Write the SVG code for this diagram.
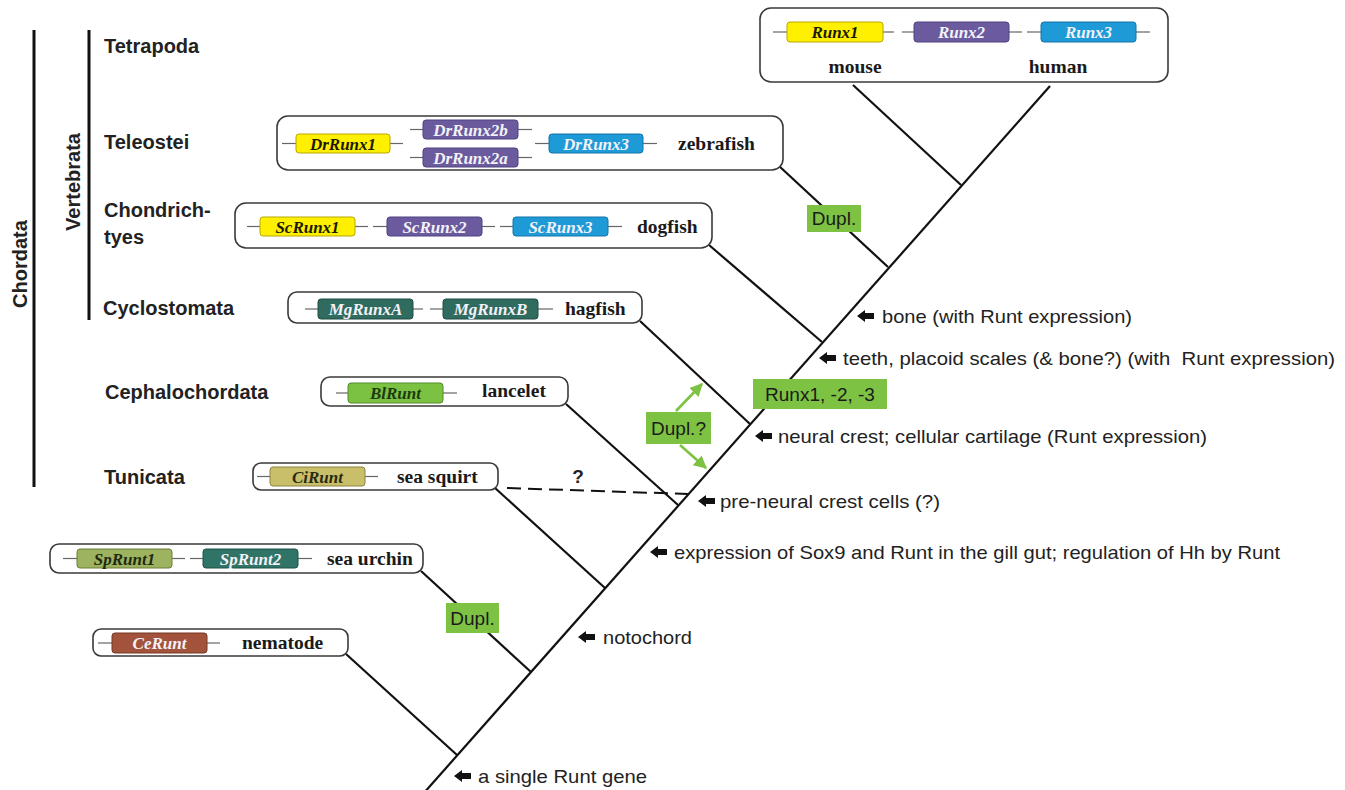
<svg xmlns="http://www.w3.org/2000/svg" xmlns:xlink="http://www.w3.org/1999/xlink" width="1345" height="790" viewBox="0 0 1345 790">
<style>
.box{fill:#fff;stroke:#3a3a3a;stroke-width:1.6}
.ln{stroke:#666;stroke-width:1.2}
.gt{font-family:"Liberation Serif",serif;font-weight:bold;font-style:italic;font-size:17px;text-anchor:middle}
.sp{font-family:"Liberation Serif",serif;font-weight:bold;font-size:19.5px;fill:#1a1a1a}
.tax{font-family:"Liberation Sans",Arial,sans-serif;font-weight:bold;font-size:20px;fill:#222}
.lab{font-family:"Liberation Sans",Arial,sans-serif;font-size:19px;fill:#222}
.br{stroke:#111;stroke-width:2.2;fill:none}
.gbox{fill:#7dc242}
.gl{font-family:"Liberation Sans",Arial,sans-serif;font-size:19px;fill:#1a1a1a;text-anchor:middle}
.yel{fill:#fff000;stroke:#b5a800}
.pur{fill:#6b5b9e;stroke:#4e4280}
.blu{fill:#1e9bd7;stroke:#1474a8}
.mg{fill:#2f6b5f;stroke:#1f4d44}
.bl{fill:#7cc242;stroke:#4f8a2a}
.ci{fill:#c9be6a;stroke:#8c8440}
.sp1{fill:#9db35f;stroke:#6b7f3a}
.sp2{fill:#2f7467;stroke:#1f5248}
.ce{fill:#a3533b;stroke:#743825}
.dk{fill:#1a1a00}
.wt{fill:#f2f2f8}
</style>
<defs>
<path id="ba" d="M0,0 L8,-6 L8,-3 L17,-3 L17,3 L8,3 L8,6 Z" fill="#111"/>
<marker id="ga" viewBox="0 0 10 10" refX="9" refY="5" markerWidth="5" markerHeight="5" orient="auto" markerUnits="strokeWidth">
<path d="M0,0 L10,5 L0,10 Z" fill="#7dc242"/>
</marker>
</defs>

<!-- taxonomy labels -->
<g id="taxa">
<line x1="34" y1="30" x2="34" y2="487" stroke="#111" stroke-width="3"/>
<line x1="89" y1="30" x2="89" y2="320" stroke="#111" stroke-width="3"/>
<text class="tax" font-size="22" text-anchor="middle" transform="translate(27,264) rotate(-90)">Chordata</text>
<text class="tax" font-size="22" text-anchor="middle" transform="translate(80,182) rotate(-90)">Vertebrata</text>
<text class="tax" x="104" y="53">Tetrapoda</text>
<text class="tax" x="104" y="149">Teleostei</text>
<text class="tax" x="104" y="217">Chondrich-</text>
<text class="tax" x="104" y="244">tyes</text>
<text class="tax" x="103" y="315">Cyclostomata</text>
<text class="tax" x="105" y="399">Cephalochordata</text>
<text class="tax" x="104" y="484">Tunicata</text>
</g>

<!-- connectors -->
<g id="connectors">
<line class="br" x1="423" y1="794" x2="1050" y2="86"/>
<line class="br" x1="853" y1="85" x2="961" y2="185"/>
<line class="br" x1="779" y1="166" x2="888" y2="267"/>
<line class="br" x1="709" y1="245" x2="822" y2="342"/>
<line class="br" x1="640" y1="321" x2="750" y2="424"/>
<line class="br" x1="566" y1="404" x2="678" y2="505"/>
<line class="br" x1="495" y1="488" x2="605" y2="588"/>
<line class="br" x1="421" y1="571" x2="531" y2="672"/>
<line class="br" x1="346" y1="654" x2="457" y2="755"/>
<line x1="507" y1="488" x2="688" y2="494" stroke="#111" stroke-width="2" stroke-dasharray="14,7"/>
<text x="578" y="483" font-family="Liberation Sans, Arial, sans-serif" font-weight="bold" font-size="19" text-anchor="middle" fill="#222">?</text>
<line x1="676" y1="411" x2="702" y2="384" stroke="#7dc242" stroke-width="2.6" marker-end="url(#ga)"/>
<line x1="680" y1="445" x2="706" y2="468" stroke="#7dc242" stroke-width="2.6" marker-end="url(#ga)"/>
</g>

<!-- top box: mouse/human -->
<g id="tetrapoda">
<rect class="box" x="760" y="8" width="408" height="74" rx="11"/>
<line class="ln" x1="773" y1="32" x2="787" y2="32"/><line class="ln" x1="883" y1="32" x2="894" y2="32"/>
<line class="ln" x1="902" y1="32" x2="914" y2="32"/><line class="ln" x1="1009" y1="32" x2="1022" y2="32"/>
<line class="ln" x1="1027" y1="32" x2="1041" y2="32"/><line class="ln" x1="1136" y1="32" x2="1150" y2="32"/>
<rect class="yel" x="787" y="22" width="96" height="20" rx="3"/>
<rect class="pur" x="914" y="22" width="95" height="20" rx="3"/>
<rect class="blu" x="1041" y="22" width="95" height="20" rx="3"/>
<text class="gt dk" x="835" y="38">Runx1</text>
<text class="gt wt" x="961.5" y="38">Runx2</text>
<text class="gt wt" x="1088.5" y="38">Runx3</text>
<text class="sp" x="855" y="73" text-anchor="middle">mouse</text>
<text class="sp" x="1058" y="73" text-anchor="middle">human</text>
</g>

<g id="zebrafish">
<rect class="box" x="277" y="116" width="506" height="54" rx="11"/>
<line class="ln" x1="282" y1="143.5" x2="296" y2="143.5"/><line class="ln" x1="390" y1="143.5" x2="403" y2="143.5"/>
<line class="ln" x1="410" y1="129.5" x2="423" y2="129.5"/><line class="ln" x1="518" y1="129.5" x2="532" y2="129.5"/>
<line class="ln" x1="410" y1="157.5" x2="423" y2="157.5"/><line class="ln" x1="518" y1="157.5" x2="532" y2="157.5"/>
<line class="ln" x1="535" y1="143.5" x2="549" y2="143.5"/><line class="ln" x1="643" y1="143.5" x2="657" y2="143.5"/>
<rect class="yel" x="296" y="134" width="94" height="19" rx="3"/>
<rect class="pur" x="423" y="120" width="95" height="19" rx="3"/>
<rect class="pur" x="423" y="148" width="95" height="19" rx="3"/>
<rect class="blu" x="549" y="134" width="94" height="19" rx="3"/>
<text class="gt dk" x="343" y="149.5">DrRunx1</text>
<text class="gt wt" x="470.5" y="135.5">DrRunx2b</text>
<text class="gt wt" x="470.5" y="163.5">DrRunx2a</text>
<text class="gt wt" x="596" y="149.5">DrRunx3</text>
<text class="sp" x="678" y="150">zebrafish</text>
</g>

<g id="dogfish">
<rect class="box" x="235" y="203" width="477" height="45" rx="11"/>
<line class="ln" x1="247" y1="226.5" x2="260" y2="226.5"/><line class="ln" x1="355" y1="226.5" x2="368" y2="226.5"/>
<line class="ln" x1="373" y1="226.5" x2="387" y2="226.5"/><line class="ln" x1="482" y1="226.5" x2="495" y2="226.5"/>
<line class="ln" x1="500" y1="226.5" x2="513" y2="226.5"/><line class="ln" x1="608" y1="226.5" x2="622" y2="226.5"/>
<rect class="yel" x="260" y="217" width="95" height="19" rx="3"/>
<rect class="pur" x="387" y="217" width="95" height="19" rx="3"/>
<rect class="blu" x="513" y="217" width="95" height="19" rx="3"/>
<text class="gt dk" x="307.5" y="232.5">ScRunx1</text>
<text class="gt wt" x="434.5" y="232.5">ScRunx2</text>
<text class="gt wt" x="560.5" y="232.5">ScRunx3</text>
<text class="sp" x="637" y="233">dogfish</text>
</g>

<g id="hagfish">
<rect class="box" x="288" y="292" width="354" height="31" rx="9"/>
<line class="ln" x1="305" y1="309" x2="318" y2="309"/><line class="ln" x1="413" y1="309" x2="423" y2="309"/>
<line class="ln" x1="430" y1="309" x2="443" y2="309"/><line class="ln" x1="538" y1="309" x2="553" y2="309"/>
<rect class="mg" x="318" y="299" width="95" height="20" rx="3"/>
<rect class="mg" x="443" y="299" width="95" height="20" rx="3"/>
<text class="gt wt" x="365.5" y="315">MgRunxA</text>
<text class="gt wt" x="490.5" y="315">MgRunxB</text>
<text class="sp" x="565" y="315">hagfish</text>
</g>

<g id="lancelet">
<rect class="box" x="321" y="377" width="247" height="29" rx="9"/>
<line class="ln" x1="336" y1="393" x2="348" y2="393"/><line class="ln" x1="443" y1="393" x2="457" y2="393"/>
<rect class="bl" x="348" y="383" width="95" height="20" rx="3"/>
<text class="gt" x="395.5" y="399" fill="#1c3a10">BlRunt</text>
<text class="sp" x="482" y="397">lancelet</text>
</g>

<g id="seasquirt">
<rect class="box" x="253" y="463" width="245" height="27" rx="8"/>
<line class="ln" x1="257" y1="476.5" x2="270" y2="476.5"/><line class="ln" x1="365" y1="476.5" x2="378" y2="476.5"/>
<rect class="ci" x="270" y="467" width="95" height="19" rx="3"/>
<text class="gt" x="317.5" y="482.5" fill="#2a2a10">CiRunt</text>
<text class="sp" x="397" y="483">sea squirt</text>
</g>

<g id="seaurchin">
<rect class="box" x="50" y="544" width="373" height="29" rx="9"/>
<line class="ln" x1="63" y1="558.5" x2="77" y2="558.5"/><line class="ln" x1="172" y1="558.5" x2="185" y2="558.5"/>
<line class="ln" x1="190" y1="558.5" x2="203" y2="558.5"/><line class="ln" x1="298" y1="558.5" x2="312" y2="558.5"/>
<rect class="sp1" x="77" y="549" width="95" height="19" rx="3"/>
<rect class="sp2" x="203" y="549" width="95" height="19" rx="3"/>
<text class="gt" x="124.5" y="564.5" fill="#1f2a10">SpRunt1</text>
<text class="gt wt" x="250.5" y="564.5">SpRunt2</text>
<text class="sp" x="327" y="565">sea urchin</text>
</g>

<g id="nematode">
<rect class="box" x="93" y="629" width="255" height="27" rx="8"/>
<line class="ln" x1="98" y1="643" x2="112" y2="643"/><line class="ln" x1="207" y1="643" x2="220" y2="643"/>
<rect class="ce" x="112" y="633" width="95" height="20" rx="3"/>
<text class="gt wt" x="159.5" y="649">CeRunt</text>
<text class="sp" x="242" y="649">nematode</text>
</g>

<!-- green event labels -->
<g id="dupl-teleost"><rect class="gbox" x="807" y="205" width="54" height="27"/><text class="gl" x="834" y="225">Dupl.</text></g>
<g id="runx123"><rect class="gbox" x="753" y="379" width="134" height="30"/><text class="gl" x="820" y="401">Runx1, -2, -3</text></g>
<g id="dupl-q"><rect class="gbox" x="646" y="412" width="65" height="32"/><text class="gl" x="678.5" y="435">Dupl.?</text></g>
<g id="dupl-urchin"><rect class="gbox" x="446" y="603" width="53" height="30"/><text class="gl" x="472.5" y="625">Dupl.</text></g>

<!-- event annotations -->
<g id="ev-bone"><use xlink:href="#ba" x="857" y="316"/><text class="lab" x="882" y="323" textLength="250" lengthAdjust="spacingAndGlyphs">bone (with Runt expression)</text></g>
<g id="ev-teeth"><use xlink:href="#ba" x="819" y="358"/><text class="lab" x="843" y="365" textLength="492" lengthAdjust="spacingAndGlyphs" xml:space="preserve">teeth, placoid scales (&amp; bone?) (with  Runt expression)</text></g>
<g id="ev-nc"><use xlink:href="#ba" x="755" y="436"/><text class="lab" x="778" y="443" textLength="429" lengthAdjust="spacingAndGlyphs">neural crest; cellular cartilage (Runt expression)</text></g>
<g id="ev-pnc"><use xlink:href="#ba" x="698" y="501"/><text class="lab" x="720" y="508" textLength="220" lengthAdjust="spacingAndGlyphs">pre-neural crest cells (?)</text></g>
<g id="ev-sox"><use xlink:href="#ba" x="650" y="552"/><text class="lab" x="674" y="559" textLength="606" lengthAdjust="spacingAndGlyphs">expression of Sox9 and Runt in the gill gut; regulation of Hh by Runt</text></g>
<g id="ev-noto"><use xlink:href="#ba" x="578" y="637"/><text class="lab" x="603" y="644" textLength="89" lengthAdjust="spacingAndGlyphs">notochord</text></g>
<g id="ev-single"><use xlink:href="#ba" x="454" y="776"/><text class="lab" x="478" y="783" textLength="169" lengthAdjust="spacingAndGlyphs">a single Runt gene</text></g>
</svg>
